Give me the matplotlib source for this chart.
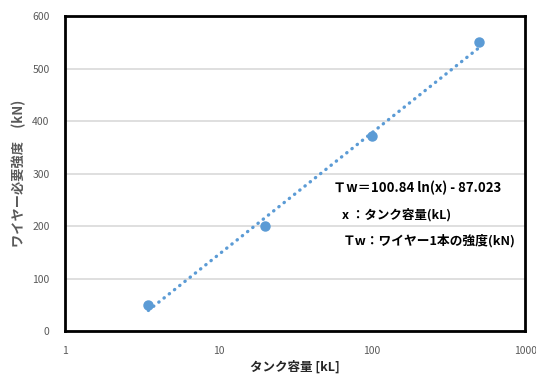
import numpy as np
import matplotlib
matplotlib.use("Agg")
import matplotlib.pyplot as plt

plt.rcParams['font.family'] = ['Noto Sans CJK JP', 'DejaVu Sans']

# data
capacity = [3.5, 20, 100, 500]          # kL
strength = [50, 200, 372, 550]          # kN
coef_a, coef_b = 100.84, -87.023
x_ticks = [1, 10, 100, 1000]
x_tick_labels = ['1', '10', '100', '1000']
y_ticks = [0, 100, 200, 300, 400, 500, 600]

blue = '#5B9BD5'

fig = plt.figure(figsize=(5.36, 3.81), dpi=100)
ax = fig.add_axes([0.121, 0.131, 0.859, 0.827])

# trendline
xt = np.geomspace(min(capacity), max(capacity), 200)
yt = coef_a * np.log(xt) + coef_b
ax.plot(xt, yt, color=blue, lw=2.4, linestyle=(0, (0.1, 1.9)),
        dash_capstyle='round', zorder=3)
ax.plot(capacity, strength, 'o', color=blue, ms=6.5, zorder=4)

ax.set_xscale('log')
ax.set_xlim(1, 1000)
ax.set_ylim(0, 600)
ax.set_xticks(x_ticks)
ax.set_xticklabels(x_tick_labels)
ax.xaxis.set_minor_locator(matplotlib.ticker.NullLocator())
ax.set_yticks(y_ticks)
ax.tick_params(axis='both', length=0, labelsize=7.5, labelcolor='#595959', pad=11)
ax.grid(axis='y', color='#D9D9D9', lw=1.2, zorder=0)
ax.set_axisbelow(True)
for s in ax.spines.values():
    s.set_linewidth(2.0)
    s.set_color('black')

ax.set_xlabel('タンク容量 [kL]', fontsize=9, fontweight='bold', color='#262626', labelpad=3)
ax.set_ylabel('ワイヤー必要強度\u3000(kN)', fontsize=9.5, fontweight='bold', color='#595959', labelpad=4)

ax.text(0.583, 0.455, 'Ｔw＝100.84 ln(x) - 87.023', transform=ax.transAxes,
        fontsize=9.5, fontweight='bold', color='black', va='center', ha='left')
ax.text(0.603, 0.37, 'x ：タンク容量(kL)', transform=ax.transAxes,
        fontsize=9, fontweight='bold', color='black', va='center', ha='left')
ax.text(0.603, 0.287, 'Ｔw：ワイヤー1本の強度(kN)', transform=ax.transAxes,
        fontsize=9.2, fontweight='bold', color='black', va='center', ha='left')

fig.savefig('out.png', dpi=100)
